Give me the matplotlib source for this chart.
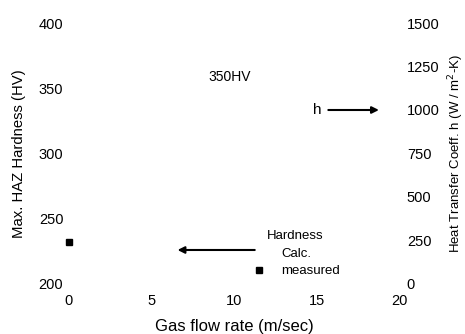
import matplotlib
matplotlib.use('Agg')
import matplotlib.pyplot as plt
from matplotlib.lines import Line2D

plt.rcParams['font.family'] = ['Liberation Sans', 'DejaVu Sans']

# data
flow_measured = [0.0]
hardness_measured = [232]
flow_calc = []
hardness_calc = []

x_ticks = [0, 5, 10, 15, 20]
hv_ticks = [200, 250, 300, 350, 400]
h_ticks = [0, 250, 500, 750, 1000, 1250, 1500]

fig = plt.figure(figsize=(4.65, 3.34), dpi=100)
ax = fig.add_axes([0.148, 0.150, 0.712, 0.781])
ax2 = ax.twinx()

ax.plot(flow_calc, hardness_calc, color='black', lw=1)
ax.plot(flow_measured, hardness_measured, 's', color='black', ms=5, clip_on=False)

ax.set_xlim(0, 20)
ax.set_ylim(200, 400)
ax2.set_ylim(0, 1500)
ax.set_xticks(x_ticks)
ax.set_yticks(hv_ticks)
ax2.set_yticks(h_ticks)

for a in (ax, ax2):
    for s in a.spines.values():
        s.set_visible(False)
ax.tick_params(axis='both', length=0, labelsize=10.5)
ax.tick_params(axis='y', pad=4)
ax.tick_params(axis='x', pad=7)
ax2.tick_params(axis='y', length=0, labelsize=10.5, pad=5)

ax.set_xlabel('Gas flow rate (m/sec)', fontsize=12, labelpad=8)
ax.set_ylabel('Max. HAZ Hardness (HV)', fontsize=10.7, labelpad=9)
ax2.set_ylabel(r'Heat Transfer Coeff. h (W / m$^2$-K)', fontsize=9.5, labelpad=5)

ax.text(9.7, 359, '350HV', fontsize=10, ha='center', va='center')

# arrows pointing to the axes
ax.annotate('', xy=(6.4, 226), xytext=(11.4, 226),
            arrowprops=dict(arrowstyle='-|>', color='black', lw=1.5, mutation_scale=10))
ax2.annotate('h', xy=(18.9, 1000), xytext=(15.0, 1000), fontsize=11,
             va='center', ha='center',
             arrowprops=dict(arrowstyle='-|>', color='black', lw=1.5, mutation_scale=10,
                             shrinkA=3))

handles = [Line2D([], [], color='none'),
           Line2D([], [], marker='s', color='black', ls='none', ms=5)]
leg = ax.legend(handles, ['Calc.', 'measured'], title='Hardness', frameon=False,
                fontsize=9.5, title_fontsize=9.5, loc='center',
                bbox_to_anchor=(0.685, 0.115), handlelength=1.2, handletextpad=1.1,
                labelspacing=0.4, borderpad=0)

fig.savefig('out.png', dpi=100)
